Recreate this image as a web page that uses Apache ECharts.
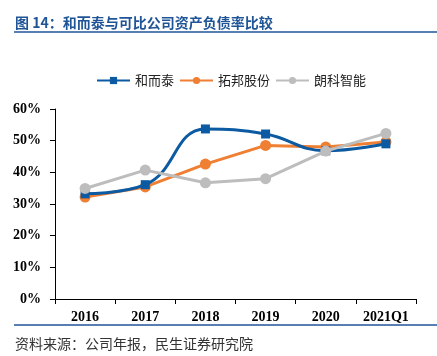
<!DOCTYPE html>
<html><head><meta charset="utf-8">
<script src="https://cdn.jsdelivr.net/npm/echarts@6/dist/echarts.min.js"></script>
<style>html,body{margin:0;padding:0;background:#fff}#c{width:437px;height:356px}</style>
</head><body><div id="c"></div>
<script>
const categories = ['2016','2017','2018','2019','2020','2021Q1'];
const heErTai = [33.2, 36.1, 53.7, 52.1, 46.8, 49.0];
const tuoBang = [32.2, 35.4, 42.6, 48.5, 48.0, 49.6];
const langKe = [34.9, 40.7, 36.7, 38.0, 46.7, 52.3];

const chart = echarts.init(document.getElementById('c'), null, {renderer:'canvas'});
const serif = '"Liberation Serif", "Times New Roman", serif';
const cjk = '"Noto Sans CJK SC", sans-serif';
chart.setOption({
  animation:false,
  backgroundColor:'#fff',
  title:[
    {text:'图 14：和而泰与可比公司资产负债率比较', left:15, top:16, padding:0,
     textStyle:{color:'#1f5597', fontSize:14, fontWeight:'bold', fontFamily:cjk}},
    {text:'资料来源：公司年报，民生证券研究院', left:15, top:337, padding:0,
     textStyle:{color:'#333', fontSize:14, fontWeight:'normal', fontFamily:cjk}}
  ],
  graphic:[
    {type:'line', shape:{x1:14,y1:32,x2:437,y2:32}, style:{stroke:'#1f5597', lineWidth:1.5}},
    {type:'line', shape:{x1:14,y1:325,x2:437,y2:325}, style:{stroke:'#1f5597', lineWidth:1.5}}
  ],
  legend:{
    top:74, left:96, itemWidth:33, itemHeight:9, itemGap:5, padding:0,
    textStyle:{fontSize:13, fontFamily:cjk, color:'#222'},
    data:['和而泰','拓邦股份','朗科智能']
  },
  grid:{left:55, right:21, top:109, bottom:57},
  xAxis:{
    type:'category', data:categories, boundaryGap:true,
    axisLine:{lineStyle:{color:'#000', width:1}},
    axisTick:{show:true, length:5, lineStyle:{color:'#000'}},
    axisLabel:{color:'#000', fontFamily:serif, fontWeight:'bold', fontSize:14, margin:11}
  },
  yAxis:{
    type:'value', min:0, max:60, interval:10,
    splitLine:{show:false},
    axisLine:{show:true, lineStyle:{color:'#000', width:1}},
    axisTick:{show:true, length:5, lineStyle:{color:'#000'}},
    axisLabel:{color:'#000', fontFamily:serif, fontWeight:'bold', fontSize:14, margin:14,
      formatter:v=>v+'%'}
  },
  series:[
    {name:'和而泰', type:'line', data:heErTai, smooth:0.45, symbol:'rect', symbolSize:9,
     lineStyle:{width:3, color:'#0b5aa2'}, itemStyle:{color:'#0b5aa2'}, z:3},
    {name:'拓邦股份', type:'line', data:tuoBang, symbol:'circle', symbolSize:11,
     lineStyle:{width:3, color:'#ef7f32'}, itemStyle:{color:'#ef7f32'}, z:2},
    {name:'朗科智能', type:'line', data:langKe, symbol:'circle', symbolSize:11,
     lineStyle:{width:3, color:'#bdbdbd'}, itemStyle:{color:'#bdbdbd'}, z:4}
  ]
});
</script></body></html>
